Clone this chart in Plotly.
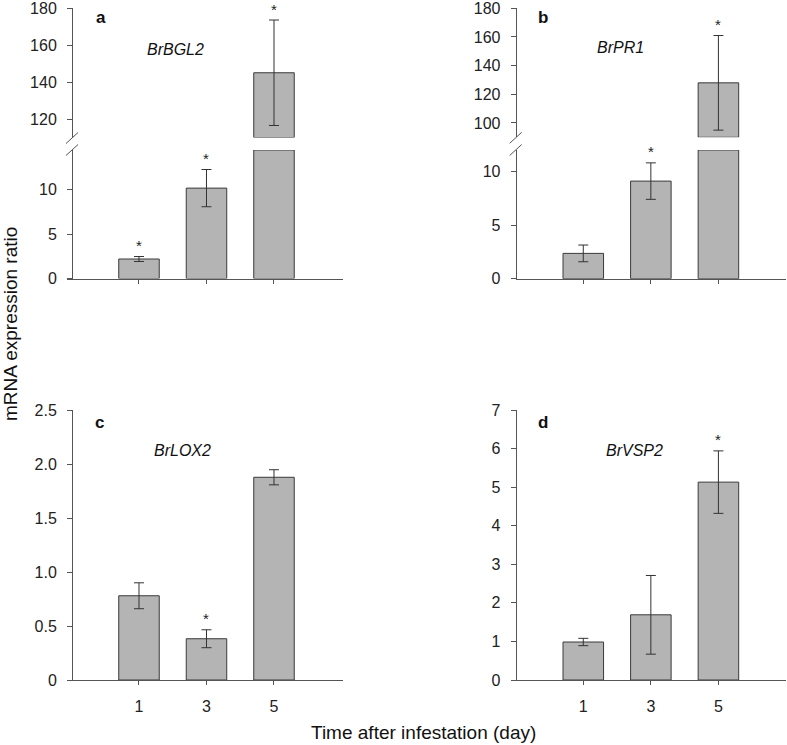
import plotly.graph_objects as go

W, H = 787, 745

# ---------------- data ----------------
days = [1, 3, 5]
day_labels = ["1", "3", "5"]

bgl2_mean = [2.2, 10.2, 145.0]
bgl2_se = [0.28, 2.1, 28.5]
bgl2_sig = [True, True, True]

pr1_mean = [2.36, 9.1, 128.0]
pr1_se = [0.78, 1.7, 33.0]
pr1_sig = [False, True, True]

lox2_mean = [0.78, 0.382, 1.877]
lox2_se = [0.12, 0.083, 0.07]
lox2_sig = [False, True, False]

vsp2_mean = [0.985, 1.69, 5.13]
vsp2_se = [0.095, 1.02, 0.81]
vsp2_sig = [False, False, True]

genes = ["BrBGL2", "BrPR1", "BrLOX2", "BrVSP2"]
panel_letters = ["a", "b", "c", "d"]

# ---------------- styling ----------------
FONT = "Arial, Liberation Sans, sans-serif"
BAR_FILL = "#b4b4b4"
BAR_LINE = "#3a3a3a"
AXIS = "#555555"
ERR = "#333333"
TICK_SIZE = 16


def px_x(p):
    return p / W


def px_y(p):
    return 1 - p / H


fig = go.Figure()

panels = [
    dict(mean=bgl2_mean, se=bgl2_se, sig=bgl2_sig, gene=genes[0], letter=panel_letters[0],
         x="x", xname="xaxis", xdom=(67, 342.5), xr=(-1.133, 7.03), yax=72,
         lower=("y", "yaxis", (150, 278.5), (0, 14.5), [0, 5, 10], ["0", "5", "10"]),
         upper=("y2", "yaxis2", (8, 137.5), (110, 180), [120, 140, 160, 180], ["120", "140", "160", "180"]),
         labels=False, gene_pos=(175.7, 49), letter_pos=(101, 17)),
    dict(mean=pr1_mean, se=pr1_se, sig=pr1_sig, gene=genes[1], letter=panel_letters[1],
         x="x2", xname="xaxis2", xdom=(515.7, 786), xr=(-1.0, 7.0), yax=515.7,
         lower=("y3", "yaxis3", (150, 278.7), (0, 12), [0, 5, 10], ["0", "5", "10"]),
         upper=("y4", "yaxis4", (8.3, 137.3), (90, 180), [100, 120, 140, 160, 180],
                ["100", "120", "140", "160", "180"]),
         labels=False, gene_pos=(620, 48), letter_pos=(543, 17)),
    dict(mean=lox2_mean, se=lox2_se, sig=lox2_sig, gene=genes[2], letter=panel_letters[2],
         x="x3", xname="xaxis3", xdom=(67, 342.5), xr=(-1.133, 7.03), yax=72,
         lower=("y5", "yaxis5", (410, 680), (0, 2.5), [0, 0.5, 1.0, 1.5, 2.0, 2.5],
                ["0", "0.5", "1.0", "1.5", "2.0", "2.5"]),
         upper=None, labels=True, gene_pos=(182.3, 450), letter_pos=(99, 422)),
    dict(mean=vsp2_mean, se=vsp2_se, sig=vsp2_sig, gene=genes[3], letter=panel_letters[3],
         x="x4", xname="xaxis4", xdom=(515.7, 786), xr=(-1.0, 7.0), yax=515.7,
         lower=("y6", "yaxis6", (410, 680), (0, 7), list(range(8)), [str(i) for i in range(8)]),
         upper=None, labels=True, gene_pos=(634, 450), letter_pos=(543, 422)),
]

layout = dict(
    width=W, height=H, autosize=False,
    margin=dict(l=0, r=0, t=0, b=0, pad=0, autoexpand=False),
    paper_bgcolor="white", plot_bgcolor="white",
    showlegend=False,
    font=dict(family=FONT, color="#111111"),
)
annotations = []
shapes = []


def yaxis_style(dom_px, rng, tv, tt, xpos):
    return dict(
        domain=[px_y(dom_px[1]), px_y(dom_px[0])], range=list(rng),
        anchor="free", position=px_x(xpos), automargin=False,
        showline=True, linecolor=AXIS, linewidth=1,
        ticks="outside", ticklen=5, tickcolor=AXIS, tickwidth=1,
        tickvals=tv, ticktext=tt, ticklabelstandoff=7, ticklabeloverflow="allow",
        showgrid=False, zeroline=False,
        tickfont=dict(size=TICK_SIZE, color="#222222", family=FONT),
    )


for p in panels:
    lyid, lyname, ldom, lrng, ltv, ltt = p["lower"]
    layout[p["xname"]] = dict(
        domain=[px_x(p["xdom"][0]), px_x(p["xdom"][1])], range=list(p["xr"]),
        anchor=lyid, automargin=False, showline=True, linecolor=AXIS, linewidth=1,
        ticks="outside", ticklen=4, tickcolor=AXIS,
        tickvals=days, ticktext=day_labels, showticklabels=p["labels"],
        ticklabelstandoff=8, ticklabeloverflow="allow",
        showgrid=False, zeroline=False,
        tickfont=dict(size=TICK_SIZE, color="#222222", family=FONT),
    )
    layout[lyname] = yaxis_style(ldom, lrng, ltv, ltt, p["yax"])
    lower_top = lrng[1]

    low_h = [min(v, lower_top) for v in p["mean"]]
    fig.add_trace(go.Bar(
        x=days, y=low_h, width=1.2, xaxis=p["x"], yaxis=lyid,
        marker=dict(color=BAR_FILL, line=dict(color=BAR_LINE, width=1)),
        cliponaxis=False, hoverinfo="skip",
    ))

    up = p["upper"]
    if up is not None:
        uyid, uyname, udom, urng, utv, utt = up
        layout[uyname] = yaxis_style(udom, urng, utv, utt, p["yax"])
        ub = urng[0]
        idx = [i for i, v in enumerate(p["mean"]) if v > lower_top]
        fig.add_trace(go.Bar(
            x=[days[i] for i in idx], y=[p["mean"][i] - ub for i in idx], base=ub,
            width=1.2, xaxis=p["x"], yaxis=uyid,
            marker=dict(color=BAR_FILL, line=dict(color=BAR_LINE, width=1)),
            cliponaxis=False, hoverinfo="skip",
        ))
        fig.add_trace(go.Scatter(
            x=[days[i] for i in idx], y=[p["mean"][i] for i in idx], mode="markers",
            marker=dict(size=1, opacity=0), xaxis=p["x"], yaxis=uyid, cliponaxis=False,
            hoverinfo="skip",
            error_y=dict(type="data", array=[p["se"][i] for i in idx], color=ERR,
                         thickness=1, width=5),
        ))
        for i in idx:
            if p["sig"][i]:
                annotations.append(dict(
                    x=days[i], y=p["mean"][i] + p["se"][i], xref=p["x"], yref=uyid,
                    text="*", showarrow=False, yanchor="middle", yshift=11,
                    font=dict(size=15, color="#222222", family=FONT)))
        xb = p["yax"]
        for yb in (udom[1] + 0.5, ldom[0]):
            shapes.append(dict(type="line", xref="paper", yref="paper",
                               x0=px_x(xb - 6), y0=px_y(yb + 5.5),
                               x1=px_x(xb + 6), y1=px_y(yb - 5.5),
                               line=dict(color=AXIS, width=1)))
    lidx = [i for i, v in enumerate(p["mean"]) if v <= lower_top]
    fig.add_trace(go.Scatter(
        x=[days[i] for i in lidx], y=[p["mean"][i] for i in lidx], mode="markers",
        marker=dict(size=1, opacity=0), xaxis=p["x"], yaxis=lyid, cliponaxis=False,
        hoverinfo="skip",
        error_y=dict(type="data", array=[p["se"][i] for i in lidx], color=ERR,
                     thickness=1, width=5),
    ))
    for i in lidx:
        if p["sig"][i]:
            annotations.append(dict(
                x=days[i], y=p["mean"][i] + p["se"][i], xref=p["x"], yref=lyid,
                text="*", showarrow=False, yanchor="middle", yshift=11,
                font=dict(size=15, color="#222222", family=FONT)))

    gx, gy = p["gene_pos"]
    annotations.append(dict(x=px_x(gx), y=px_y(gy), xref="paper", yref="paper",
                            text="<i>" + p["gene"] + "</i>", showarrow=False,
                            xanchor="center", yanchor="middle",
                            font=dict(size=16, color="#111111", family=FONT)))
    lx, ly = p["letter_pos"]
    annotations.append(dict(x=px_x(lx), y=px_y(ly), xref="paper", yref="paper",
                            text="<b>" + p["letter"] + "</b>", showarrow=False,
                            xanchor="center", yanchor="middle",
                            font=dict(size=17, color="#111111", family=FONT)))

annotations.append(dict(x=px_x(11), y=px_y(324), xref="paper", yref="paper",
                        text="mRNA expression ratio", textangle=-90, showarrow=False,
                        xanchor="center", yanchor="middle",
                        font=dict(size=19, color="#111111", family=FONT)))
annotations.append(dict(x=px_x(423), y=px_y(732), xref="paper", yref="paper",
                        text="Time after infestation (day)", showarrow=False,
                        xanchor="center", yanchor="middle",
                        font=dict(size=19, color="#111111", family=FONT)))

layout["annotations"] = annotations
layout["shapes"] = shapes
layout["barmode"] = "overlay"
fig.update_layout(**layout)

fig.write_html(
    "out.html",
    config={"displayModeBar": False, "staticPlot": True},
    post_script="document.body.style.margin='0';document.body.style.padding='0';"
                "document.documentElement.style.overflow='hidden';",
)
